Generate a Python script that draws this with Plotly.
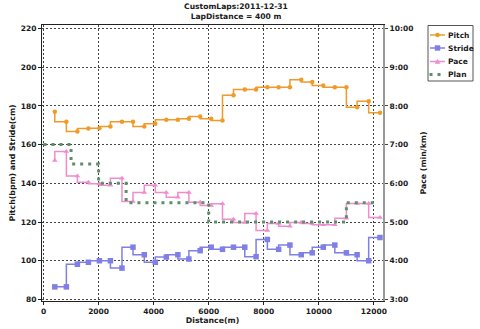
import plotly.graph_objects as go

# ---- data ----
distance_m = [410, 830, 1230, 1630, 2030, 2430, 2850, 3250, 3660, 4060,
              4460, 4880, 5280, 5690, 6090, 6500, 6900, 7310, 7720, 8130,
              8540, 8950, 9360, 9760, 10160, 10580, 11000, 11390, 11810, 12220]

pitch_bpm = [177.0, 171.8, 166.8, 168.3, 168.5, 169.4, 171.8, 171.8, 169.4, 170.8,
             172.8, 172.8, 173.4, 174.5, 173.4, 172.5, 185.5, 188.5, 188.5, 189.7,
             189.7, 189.7, 193.5, 192.3, 190.6, 189.7, 189.7, 179.3, 182.4, 176.4]

stride_cm = [86.5, 86.5, 98.2, 99.2, 100.0, 100.0, 96.2, 107.0, 103.1, 99.2,
             101.9, 103.1, 100.9, 105.2, 107.0, 105.9, 107.0, 107.0, 102.1, 111.0,
             105.9, 108.1, 103.1, 104.1, 107.0, 108.1, 104.1, 103.1, 100.0, 112.0]

pace_min = [6.59, 6.82, 6.19, 6.03, 5.99, 5.95, 6.13, 5.53, 5.76, 5.95,
            5.76, 5.64, 5.76, 5.51, 5.43, 5.47, 5.07, 4.99, 5.22, 4.78,
            4.96, 4.89, 4.99, 4.96, 4.93, 4.93, 5.10, 5.48, 5.48, 5.12]

plan_distance_m = [0, 1000, 2000, 3000, 6000, 11000, 12000]
plan_pace_min = [7.0, 6.5, 6.0, 5.5, 5.0, 5.5, 5.5]

series_names = ["Pitch", "Stride", "Pace", "Plan"]

x_ticks = [0, 2000, 4000, 6000, 8000, 10000, 12000]
left_ticks = [80, 100, 120, 140, 160, 180, 200, 220]
pace_ticks = [3, 4, 5, 6, 7, 8, 9, 10]
pace_tick_text = ["3:00", "4:00", "5:00", "6:00", "7:00", "8:00", "9:00", "10:00"]

# ---- styling ----
FONT = "DejaVu Sans"
ORANGE = "#F09A28"
BLUE = "#7F7FE6"
PINK = "#F08CCF"
GREEN = "#5E8F66"
TXT = "#1a1a1a"

W, H = 480, 329
M_L, M_R, M_T, M_B = 42, 97, 25, 28
PLOT_W = W - M_L - M_R
PLOT_H = H - M_T - M_B

left_range = [79.2, 221.8]
# pace axis: 3:00 aligns with 80, 10:00 with 220 (linear)
pace_range = [(left_range[0] - 20) / 20, (left_range[1] - 20) / 20]

fig = go.Figure()

fig.add_trace(go.Scatter(
    x=distance_m, y=pitch_bpm, name=series_names[0], mode="lines+markers",
    line=dict(color=ORANGE, width=1.5, shape="vh"),
    marker=dict(symbol="circle", size=4.5, color=ORANGE),
))
fig.add_trace(go.Scatter(
    x=distance_m, y=stride_cm, name=series_names[1], mode="lines+markers",
    line=dict(color=BLUE, width=1.5, shape="vh"),
    marker=dict(symbol="square", size=5.5, color=BLUE),
))
fig.add_trace(go.Scatter(
    x=distance_m, y=pace_min, name=series_names[2], mode="lines+markers", yaxis="y2",
    line=dict(color=PINK, width=1.5, shape="vh"),
    marker=dict(symbol="triangle-up", size=5, color=PINK),
))
fig.add_trace(go.Scatter(
    x=plan_distance_m, y=plan_pace_min, name=series_names[3], mode="lines", yaxis="y2",
    line=dict(color=GREEN, width=3, shape="hv", dash="3px,5px"),
))

# ---- compact legend box (layout decoration, paper coordinates) ----
def px(xp):
    return (xp - M_L) / PLOT_W

def py(yp):
    return 1 - (yp - M_T) / PLOT_H

shapes = [dict(type="rect", xref="paper", yref="paper",
               x0=px(428), x1=px(473), y0=py(25.5), y1=py(81),
               line=dict(color="#555555", width=1), fillcolor="white")]
annotations = []
legend_colors = [ORANGE, BLUE, PINK, GREEN]
row_y = [35, 48, 61.5, 74.5]
for i, (name, col, ry) in enumerate(zip(series_names, legend_colors, row_y)):
    if name == "Plan":
        shapes.append(dict(type="line", xref="paper", yref="paper",
                           x0=px(429.5), x1=px(441), y0=py(ry), y1=py(ry),
                           line=dict(color=col, width=3, dash="3px,5px")))
    else:
        shapes.append(dict(type="line", xref="paper", yref="paper",
                           x0=px(430), x1=px(445), y0=py(ry), y1=py(ry),
                           line=dict(color=col, width=1.5)))
        cx = 437.5
        if name == "Pitch":
            shapes.append(dict(type="circle", xref="paper", yref="paper",
                               x0=px(cx - 2.3), x1=px(cx + 2.3),
                               y0=py(ry + 2.3), y1=py(ry - 2.3),
                               line=dict(width=0), fillcolor=col))
        elif name == "Stride":
            shapes.append(dict(type="rect", xref="paper", yref="paper",
                               x0=px(cx - 2.7), x1=px(cx + 2.7),
                               y0=py(ry + 2.7), y1=py(ry - 2.7),
                               line=dict(width=0), fillcolor=col))
        else:
            path = "M {a},{b} L {c},{d} L {e},{f} Z".format(
                a=px(cx - 2.8), b=py(ry + 2.2), c=px(cx + 2.8), d=py(ry + 2.2),
                e=px(cx), f=py(ry - 2.8))
            shapes.append(dict(type="path", xref="paper", yref="paper", path=path,
                               line=dict(width=0), fillcolor=col))
    annotations.append(dict(
        text=name, xref="paper", yref="paper", x=px(446), y=py(ry),
        xanchor="left", yanchor="middle", showarrow=False,
        font=dict(family=FONT, size=7.5, color=TXT, weight="bold"),
    ))

axis_font = dict(family=FONT, size=7.5, color=TXT, weight="bold")
title_font = dict(family=FONT, size=7.8, color=TXT, weight="bold")

fig.update_layout(
    width=W, height=H,
    margin=dict(l=M_L, r=M_R, t=M_T, b=M_B, autoexpand=False),
    paper_bgcolor="white", plot_bgcolor="white",
    font=dict(family=FONT, size=7.5, color=TXT),
    title=dict(
        text="CustomLaps:2011-12-31<br>LapDistance = 400 m",
        x=236 / 480, xanchor="center", y=0.973, yanchor="top",
        font=dict(family=FONT, size=7.6, color=TXT, weight="bold"),
    ),
    showlegend=False,
    shapes=shapes,
    annotations=annotations,
    xaxis=dict(
        range=[-55, 12330], tickvals=x_ticks, tickformat="d",
        title=dict(text="Distance(m)", font=title_font, standoff=2),
        tickfont=axis_font,
        showline=True, linecolor="#222222", linewidth=1, mirror=True,
        ticks="outside", ticklen=3, tickcolor="#222222",
        showgrid=True, gridcolor="#444444", gridwidth=1, griddash="2px,2px",
        zeroline=False,
    ),
    yaxis=dict(
        range=left_range, tickvals=left_ticks,
        title=dict(text="Pitch(bpm) and Stride(cm)", font=title_font, standoff=4),
        tickfont=axis_font,
        showline=True, linecolor="#222222", linewidth=1,
        ticks="outside", ticklen=3, tickcolor="#222222",
        showgrid=True, gridcolor="#444444", gridwidth=1, griddash="2px,2px",
        zeroline=False,
    ),
    yaxis2=dict(
        range=pace_range, tickvals=pace_ticks, ticktext=pace_tick_text,
        overlaying="y", side="right",
        title=dict(text="Pace (min/km)", font=title_font, standoff=8),
        tickfont=axis_font,
        showline=True, linecolor="#999999", linewidth=2,
        ticks="outside", ticklen=3, tickcolor="#444444",
        showgrid=False, zeroline=False,
    ),
)

fig.write_html("out.html")
